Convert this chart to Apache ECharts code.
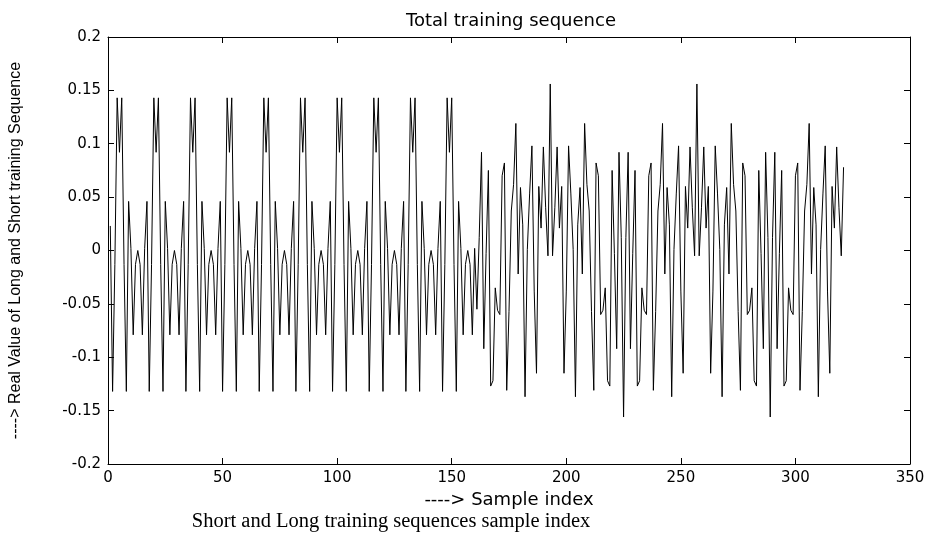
<!DOCTYPE html>
<html>
<head>
<meta charset="utf-8">
<script src="https://cdn.jsdelivr.net/npm/echarts@6/dist/echarts.min.js"></script>
<style>
html,body{margin:0;padding:0;background:#fff;}
#chart{width:935px;height:533px;}
</style>
</head>
<body>
<div id="chart"></div>
<script>
// Real part of the short training sequence (samples 0..159)
const shortTraining = [
0.023,-0.132,-0.013,0.143,0.092,0.143,-0.013,-0.132,0.046,0.002,-0.079,-0.013,0.000,-0.013,-0.079,0.002,
0.046,-0.132,-0.013,0.143,0.092,0.143,-0.013,-0.132,0.046,0.002,-0.079,-0.013,0.000,-0.013,-0.079,0.002,
0.046,-0.132,-0.013,0.143,0.092,0.143,-0.013,-0.132,0.046,0.002,-0.079,-0.013,0.000,-0.013,-0.079,0.002,
0.046,-0.132,-0.013,0.143,0.092,0.143,-0.013,-0.132,0.046,0.002,-0.079,-0.013,0.000,-0.013,-0.079,0.002,
0.046,-0.132,-0.013,0.143,0.092,0.143,-0.013,-0.132,0.046,0.002,-0.079,-0.013,0.000,-0.013,-0.079,0.002,
0.046,-0.132,-0.013,0.143,0.092,0.143,-0.013,-0.132,0.046,0.002,-0.079,-0.013,0.000,-0.013,-0.079,0.002,
0.046,-0.132,-0.013,0.143,0.092,0.143,-0.013,-0.132,0.046,0.002,-0.079,-0.013,0.000,-0.013,-0.079,0.002,
0.046,-0.132,-0.013,0.143,0.092,0.143,-0.013,-0.132,0.046,0.002,-0.079,-0.013,0.000,-0.013,-0.079,0.002,
0.046,-0.132,-0.013,0.143,0.092,0.143,-0.013,-0.132,0.046,0.002,-0.079,-0.013,0.000,-0.013,-0.079,0.002,
0.046,-0.132,-0.013,0.143,0.092,0.143,-0.013,-0.132,0.046,0.002,-0.079,-0.013,0.000,-0.013,-0.079,0.002
];
// Real part of the long training sequence (samples 160..320)
const longTraining = [
-0.055,
0.012,0.092,-0.092,-0.003,0.075,-0.127,-0.122,-0.035,-0.056,-0.060,0.070,0.082,-0.131,-0.057,0.037,0.062,0.119,-0.022,0.059,0.024,-0.137,0.001,0.053,0.098,-0.038,-0.115,0.060,0.021,0.097,0.040,-0.005,
0.156,-0.005,0.040,0.097,0.021,0.060,-0.115,-0.038,0.098,0.053,0.001,-0.137,0.024,0.059,-0.022,0.119,0.062,0.037,-0.057,-0.131,0.082,0.070,-0.060,-0.056,-0.035,-0.122,-0.127,0.075,-0.003,-0.092,0.092,0.012,
-0.156,0.012,0.092,-0.092,-0.003,0.075,-0.127,-0.122,-0.035,-0.056,-0.060,0.070,0.082,-0.131,-0.057,0.037,0.062,0.119,-0.022,0.059,0.024,-0.137,0.001,0.053,0.098,-0.038,-0.115,0.060,0.021,0.097,0.040,-0.005,
0.156,-0.005,0.040,0.097,0.021,0.060,-0.115,-0.038,0.098,0.053,0.001,-0.137,0.024,0.059,-0.022,0.119,0.062,0.037,-0.057,-0.131,0.082,0.070,-0.060,-0.056,-0.035,-0.122,-0.127,0.075,-0.003,-0.092,0.092,0.012,
-0.156,0.012,0.092,-0.092,-0.003,0.075,-0.127,-0.122,-0.035,-0.056,-0.060,0.070,0.082,-0.131,-0.057,0.037,0.062,0.119,-0.022,0.059,0.024,-0.137,0.001,0.053,0.098,-0.038,-0.115,0.060,0.021,0.097,0.040,-0.005,
0.078
];
const xTicks = [0, 50, 100, 150, 200, 250, 300, 350];
const yTicks = [-0.2, -0.15, -0.1, -0.05, 0, 0.05, 0.1, 0.15, 0.2];
const titleText = 'Total training sequence';
const xName = '----> Sample index';
const yName = '----> Real Value of Long and Short training Sequence';
const captionText = 'Short and Long training sequences sample index';

const values = shortTraining.concat(longTraining);
const seriesData = values.map((v, i) => [i + 1, v]);

const chart = echarts.init(document.getElementById('chart'), null, {renderer: 'canvas'});
const FONT = '"DejaVu Sans", "Liberation Sans", Arial, sans-serif';
const axisLineStyle = {onZero: false, lineStyle: {color: '#000', width: 1}};
const tickStyle = {show: true, inside: true, length: 6, lineStyle: {color: '#000', width: 1}};

const option = {
  animation: false,
  backgroundColor: '#fff',
  title: {
    text: titleText,
    left: 506,
    top: 7,
    textAlign: 'center',
    textStyle: {fontFamily: FONT, fontSize: 18, fontWeight: 'normal', color: '#000'}
  },
  grid: {left: 107, right: 25, top: 37, bottom: 69, containLabel: false},
  xAxis: [{
    type: 'value', position: 'bottom',
    min: xTicks[0], max: xTicks[xTicks.length - 1], interval: 50,
    axisLine: axisLineStyle, axisTick: tickStyle,
    axisLabel: {color: '#000', fontFamily: FONT, fontSize: 15, margin: 7},
    splitLine: {show: false},
    name: xName, nameLocation: 'middle', nameGap: 27,
    nameTextStyle: {color: '#000', fontFamily: FONT, fontSize: 18}
  }, {
    type: 'value', position: 'top',
    min: xTicks[0], max: xTicks[xTicks.length - 1], interval: 50,
    axisLine: axisLineStyle, axisTick: tickStyle,
    axisLabel: {show: false}, splitLine: {show: false}
  }],
  yAxis: [{
    type: 'value', position: 'left',
    min: yTicks[0], max: yTicks[yTicks.length - 1], interval: 0.05,
    axisLine: axisLineStyle, axisTick: tickStyle,
    axisLabel: {color: '#000', fontFamily: FONT, fontSize: 15, margin: 7},
    splitLine: {show: false},
    name: yName, nameLocation: 'middle', nameGap: 84, nameRotate: 90,
    nameTextStyle: {color: '#000', fontFamily: '"Liberation Sans", Arial, sans-serif', fontSize: 16}
  }, {
    type: 'value', position: 'right',
    min: yTicks[0], max: yTicks[yTicks.length - 1], interval: 0.05,
    axisLine: axisLineStyle, axisTick: tickStyle,
    axisLabel: {show: false}, splitLine: {show: false}
  }],
  graphic: [{
    type: 'text', x: 391, y: 522,
    style: {
      text: captionText, fill: '#000',
      fontFamily: '"Liberation Serif", "DejaVu Serif", serif', fontSize: 20.5,
      align: 'center', verticalAlign: 'middle', textAlign: 'center', textVerticalAlign: 'middle'
    }
  }],
  series: [{
    type: 'line', xAxisIndex: 0, yAxisIndex: 0,
    data: seriesData, showSymbol: false, symbol: 'none',
    lineStyle: {color: '#000', width: 1},
    silent: true
  }]
};
chart.setOption(option);
</script>
</body>
</html>
